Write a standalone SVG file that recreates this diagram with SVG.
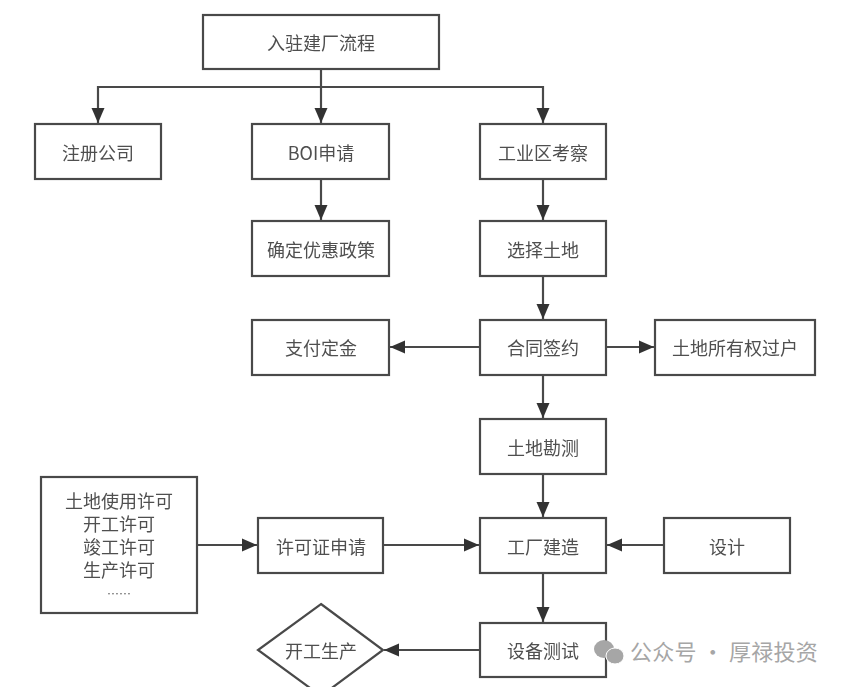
<svg xmlns="http://www.w3.org/2000/svg" width="846" height="687" viewBox="0 0 846 687">
<style>
.b{fill:#fff;stroke:#4a4a4a;stroke-width:2.2}
.t{font-family:"Noto Sans CJK SC","Liberation Sans",sans-serif;font-size:18px;fill:#505050;text-anchor:middle}
.c{fill:none;stroke:#4a4a4a;stroke-width:2.2}
.w{font-family:"Noto Sans CJK SC","Liberation Sans",sans-serif;font-size:22px;fill:#a6a6a6;letter-spacing:0.2px}
</style>
<defs>
<marker id="a" markerUnits="userSpaceOnUse" markerWidth="18" markerHeight="16" refX="16" refY="8" orient="auto"><path d="M1 1.5L16 8L1 14.5Z" fill="#333"/></marker>
<filter id="s" x="-5%" y="-5%" width="110%" height="110%"><feGaussianBlur stdDeviation="0.45"/></filter>
</defs>
<rect width="846" height="687" fill="#fff"/>
<g filter="url(#s)">
<g id="connectors">
<path class="c" d="M321 69V123" marker-end="url(#a)"/>
<path class="c" d="M321 87H98V123" marker-end="url(#a)"/>
<path class="c" d="M321 87H543V123" marker-end="url(#a)"/>
<path class="c" d="M321 179V220" marker-end="url(#a)"/>
<path class="c" d="M543 179V220" marker-end="url(#a)"/>
<path class="c" d="M543 276V319" marker-end="url(#a)"/>
<path class="c" d="M480 347H390" marker-end="url(#a)"/>
<path class="c" d="M606 347H654" marker-end="url(#a)"/>
<path class="c" d="M543 375V418" marker-end="url(#a)"/>
<path class="c" d="M543 474V517" marker-end="url(#a)"/>
<path class="c" d="M197 545H257" marker-end="url(#a)"/>
<path class="c" d="M383 545H479" marker-end="url(#a)"/>
<path class="c" d="M664 545H607" marker-end="url(#a)"/>
<path class="c" d="M543 573V622" marker-end="url(#a)"/>
<path class="c" d="M480 650H384" marker-end="url(#a)"/>
</g>
<g id="n1"><rect class="b" x="203" y="15" width="236" height="54"/><text class="t" x="321" y="50">入驻建厂流程</text></g>
<g id="n2"><rect class="b" x="35" y="124" width="126" height="55"/><text class="t" x="98" y="160">注册公司</text></g>
<g id="n3"><rect class="b" x="252" y="124" width="137" height="55"/><text class="t" x="321" y="160">BOI申请</text></g>
<g id="n4"><rect class="b" x="480" y="124" width="126" height="55"/><text class="t" x="543" y="160">工业区考察</text></g>
<g id="n5"><rect class="b" x="252" y="221" width="137" height="55"/><text class="t" x="321" y="257">确定优惠政策</text></g>
<g id="n6"><rect class="b" x="480" y="221" width="126" height="55"/><text class="t" x="543" y="257">选择土地</text></g>
<g id="n7"><rect class="b" x="252" y="320" width="137" height="55"/><text class="t" x="321" y="355">支付定金</text></g>
<g id="n8"><rect class="b" x="480" y="320" width="126" height="55"/><text class="t" x="543" y="355">合同签约</text></g>
<g id="n9"><rect class="b" x="655" y="320" width="160" height="55"/><text class="t" x="735" y="355">土地所有权过户</text></g>
<g id="n10"><rect class="b" x="480" y="419" width="126" height="55"/><text class="t" x="543" y="455">土地勘测</text></g>
<g id="n11"><rect class="b" x="41" y="477" width="156" height="136"/><text class="t" x="119" y="508"><tspan x="119">土地使用许可</tspan><tspan x="119" dy="23">开工许可</tspan><tspan x="119" dy="23">竣工许可</tspan><tspan x="119" dy="23">生产许可</tspan><tspan x="119" dy="22" style="font-size:12px">……</tspan></text></g>
<g id="n12"><rect class="b" x="258" y="518" width="125" height="55"/><text class="t" x="321" y="554">许可证申请</text></g>
<g id="n13"><rect class="b" x="480" y="518" width="126" height="55"/><text class="t" x="543" y="554">工厂建造</text></g>
<g id="n14"><rect class="b" x="664" y="518" width="126" height="55"/><text class="t" x="727" y="554">设计</text></g>
<g id="n15"><path class="b" d="M321 604L383 650L321 696L258 650Z"/><text class="t" x="321" y="658">开工生产</text></g>
<g id="n16"><rect class="b" x="480" y="623" width="126" height="54"/><text class="t" x="543" y="658">设备测试</text></g>
</g>
<g id="watermark">
<ellipse cx="604" cy="649" rx="10" ry="9" fill="#a6a6a6"/>
<ellipse cx="615" cy="656" rx="9" ry="8" fill="#a6a6a6" stroke="#fff"/>
<text class="w" x="630" y="660">公众号 · 厚禄投资</text>
</g>
</svg>
